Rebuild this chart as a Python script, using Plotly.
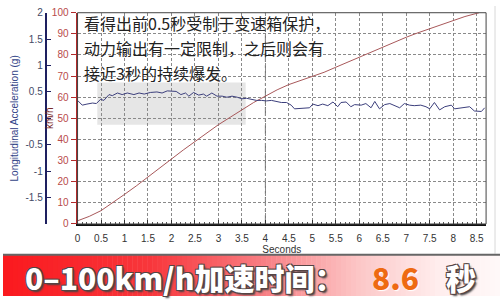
import plotly.graph_objects as go

# ---- data ----
speed_t = [0, 0.25, 0.5, 0.75, 1.0, 1.25, 1.5, 1.75, 2.0, 2.25, 2.5, 2.75, 3.0, 3.25, 3.5,
           3.75, 4.0, 4.25, 4.5, 4.75, 5.0, 5.25, 5.5, 5.75, 6.0, 6.25, 6.5, 6.75, 7.0,
           7.25, 7.5, 7.75, 8.0, 8.25, 8.55]
speed_kmh = [1.5, 3.6, 6.3, 10, 14, 18, 22.3, 26.5, 31, 35, 39, 43, 47, 50.5, 54,
             57.5, 60.5, 63.5, 66, 68, 69.8, 71.8, 74.2, 76.6, 79, 81.2, 83.6, 86, 88.4,
             90.5, 92.5, 94.5, 96.4, 98.2, 100]

acc_t = [0, 0.1, 0.2, 0.32, 0.4, 0.49, 0.56, 0.67, 0.74, 0.85, 0.95, 1.06, 1.2, 1.31, 1.42,
         1.55, 1.69, 1.8, 1.91, 2.0, 2.1, 2.2, 2.3, 2.37, 2.47, 2.58, 2.68, 2.75, 2.86, 2.97,
         3.08, 3.18, 3.29, 3.4, 3.5, 3.6, 3.71, 3.81, 3.92, 4.02, 4.13, 4.24, 4.34, 4.45,
         4.55, 4.62, 4.73, 4.84, 4.94, 5.01, 5.12, 5.22, 5.33, 5.44, 5.54, 5.61, 5.72, 5.82,
         5.9, 6.04, 6.14, 6.25, 6.33, 6.43, 6.54, 6.65, 6.75, 6.86, 6.96, 7.07, 7.17, 7.31,
         7.42, 7.5, 7.6, 7.71, 7.82, 7.96, 8.03, 8.17, 8.35, 8.45, 8.6, 8.67]
acc_g = [0.34, 0.25, 0.27, 0.29, 0.28, 0.36, 0.34, 0.45, 0.43, 0.48, 0.45, 0.48, 0.45, 0.48, 0.46,
         0.49, 0.50, 0.48, 0.52, 0.52, 0.51, 0.45, 0.48, 0.42, 0.49, 0.44, 0.46, 0.42, 0.48, 0.42,
         0.42, 0.40, 0.42, 0.40, 0.37, 0.38, 0.36, 0.34, 0.34, 0.33, 0.34, 0.32, 0.30, 0.30,
         0.25, 0.18, 0.19, 0.19, 0.20, 0.27, 0.24, 0.27, 0.24, 0.31, 0.22, 0.30, 0.31, 0.22,
         0.26, 0.25, 0.28, 0.20, 0.32, 0.18, 0.26, 0.28, 0.24, 0.20, 0.28, 0.25, 0.24, 0.25,
         0.22, 0.18, 0.30, 0.16, 0.22, 0.25, 0.18, 0.20, 0.22, 0.14, 0.13, 0.20]

x_ticks = [0, 0.5, 1, 1.5, 2, 2.5, 3, 3.5, 4, 4.5, 5, 5.5, 6, 6.5, 7, 7.5, 8, 8.5]
x_labels = ["0", "0.5", "1", "1.5", "2", "2.5", "3", "3.5", "4", "4.5", "5", "5.5", "6",
            "6.5", "7", "7.5", "8", "8.5"]
kmh_ticks = [0, 10, 20, 30, 40, 50, 60, 70, 80, 90, 100]
acc_ticks = [-1.5, -1, -0.5, 0, 0.5, 1, 1.5, 2]
acc_labels = ["-1.5", "-1", "-0.5", "0", "0.5", "1", "1.5", "2"]

note_lines = ["看得出前0.5秒受制于变速箱保护，", "动力输出有一定限制，之后则会有", "接近3秒的持续爆发。"]
banner_label = "0–100km/h加速时间："
banner_value = "8.6"
banner_unit = "秒"

W, H = 500, 302
PL, PR, PT, PB = 75, 486, 7, 227

fig = go.Figure()
fig.add_trace(go.Scatter(x=acc_t, y=acc_g, yaxis="y2", mode="lines",
                         line=dict(color="#3c3f7c", width=1), hoverinfo="skip"))
fig.add_trace(go.Scatter(x=speed_t, y=speed_kmh, mode="lines",
                         line=dict(color="#a8585a", width=1), hoverinfo="skip"))

shapes = []
# shaded area
shapes.append(dict(type="rect", xref="x", yref="y", x0=0.42, x1=3.58, y0=47, y1=67,
                   fillcolor="#e6e6e6", line=dict(width=0), layer="below"))
# darker 4-second line
shapes.append(dict(type="line", xref="x", yref="paper", x0=4, x1=4,
                   y0=(H - PB) / H, y1=(H - PT) / H,
                   line=dict(color="#666", width=1, dash="dashdot"), layer="between"))
# plot frame (top/right)
shapes.append(dict(type="rect", xref="paper", yref="paper", x0=PL / W, x1=PR / W,
                   y0=(H - PB) / H, y1=(H - PT) / H, line=dict(color="#444", width=1)))
# outer light frame line
shapes.append(dict(type="line", xref="paper", yref="paper", x0=495 / W, x1=495 / W,
                   y0=(H - 258) / H, y1=1, line=dict(color="#d8d8d8", width=1)))

# banner gradient strips
def lerp(c1, c2, f):
    return tuple(int(round(a + (b - a) * f)) for a, b in zip(c1, c2))

stops = [(0, (250, 25, 30)), (150, (248, 55, 60)), (260, (248, 125, 130)),
         (360, (252, 200, 200)), (440, (255, 238, 238)), (500, (255, 248, 248))]
n = 100
for i in range(n):
    xa = i * W / n
    xb = (i + 1) * W / n
    xm = (xa + xb) / 2
    for j in range(len(stops) - 1):
        if stops[j][0] <= xm <= stops[j + 1][0]:
            f = (xm - stops[j][0]) / (stops[j + 1][0] - stops[j][0])
            c = lerp(stops[j][1], stops[j + 1][1], f)
            break
    shapes.append(dict(type="rect", xref="paper", yref="paper", x0=xa / W, x1=xb / W + 0.001,
                       y0=0, y1=(H - 259) / H, fillcolor="rgb(%d,%d,%d)" % c,
                       line=dict(width=0), layer="above"))
shapes.append(dict(type="line", xref="paper", yref="paper", x0=0, x1=1,
                   y0=(H - 259) / H, y1=(H - 259) / H,
                   line=dict(color="#666", width=2)))

annotations = []
for k, line in enumerate(note_lines):
    annotations.append(dict(text=line, xref="paper", yref="paper", x=79 / W,
                            y=(H - (18 + 26 * k)) / H, xanchor="left", yanchor="middle",
                            showarrow=False,
                            font=dict(family="Noto Sans CJK SC", size=16, color="#222")))

# km/h axis title
annotations.append(dict(text="km/h", xref="paper", yref="paper", x=47 / W, y=(H - 117) / H,
                        xanchor="center", yanchor="middle", showarrow=False, textangle=-90,
                        font=dict(family="Liberation Sans, Arial", size=10, color="#7a2a2a")))

BFONT = "Noto Sans CJK SC"
BSIZE = 30
BY = (H - 282) / H
OUTLINE = ("-1px -1px 0 #554444, 1px -1px 0 #554444, -1px 1px 0 #554444, 1px 1px 0 #554444, "
           "2px 2px 2px #444")
for text, x, color, shadow in [(banner_label, 20, "white", OUTLINE),
                               (banner_value, 369, "#ee6a12", "1px 1px 1px #ffffff"),
                               (banner_unit, 444, "white", OUTLINE)]:
    annotations.append(dict(text=text, xref="paper", yref="paper", x=x / W, y=BY,
                            xanchor="left", yanchor="middle", showarrow=False,
                            font=dict(family=BFONT, size=BSIZE, color=color, weight=900,
                                      shadow=shadow)))

tickfont = dict(family="Liberation Sans, Arial", size=10)
fig.update_layout(
    width=W, height=H, margin=dict(l=0, r=0, t=0, b=0),
    paper_bgcolor="white", plot_bgcolor="white", showlegend=False,
    shapes=shapes, annotations=annotations,
    xaxis=dict(domain=[PL / W, PR / W], range=[0, 8.7], tickvals=x_ticks, ticktext=x_labels,
               showgrid=True, gridcolor="#8a8a8a", griddash="3px,2px", gridwidth=1,
               showline=True, linecolor="#111", linewidth=2, zeroline=False,
               ticks="inside", ticklen=4, tickcolor="#333", ticklabelstandoff=4,
               minor=dict(dtick=0.1, ticks="inside", ticklen=2, tickcolor="#555", showgrid=False),
               tickfont=dict(tickfont, color="#333"),
               title=dict(text="Seconds", font=dict(family="Liberation Sans, Arial", size=10,
                                                    color="#333"), standoff=0),
               anchor="y", fixedrange=True),
    yaxis=dict(domain=[(H - PB) / H, (H - PT) / H], range=[0, 100], tickvals=kmh_ticks,
               showgrid=True, gridcolor="#8a8a8a", griddash="3px,2px", gridwidth=1,
               showline=True, linecolor="#b02a2a", linewidth=2, zeroline=False,
               ticks="outside", ticklen=5, tickcolor="#b02a2a",
               tickfont=dict(tickfont, color="#b84a4a"),
               anchor="x", fixedrange=True),
    yaxis2=dict(overlaying="y", side="left", anchor="free", position=43 / W,
                range=[-2, 2], tickvals=acc_ticks, ticktext=acc_labels,
                showgrid=False, zeroline=False, showline=True, linecolor="#1e2060",
                linewidth=2, ticks="inside", ticklen=4, tickcolor="#1e2060",
                tickfont=dict(tickfont, color="#444a66"),
                title=dict(text="Longitudinal Acceleration (g)",
                           font=dict(family="Liberation Sans, Arial", size=10, color="#334488"),
                           standoff=4),
                fixedrange=True),
)

fig.write_html("out.html")
